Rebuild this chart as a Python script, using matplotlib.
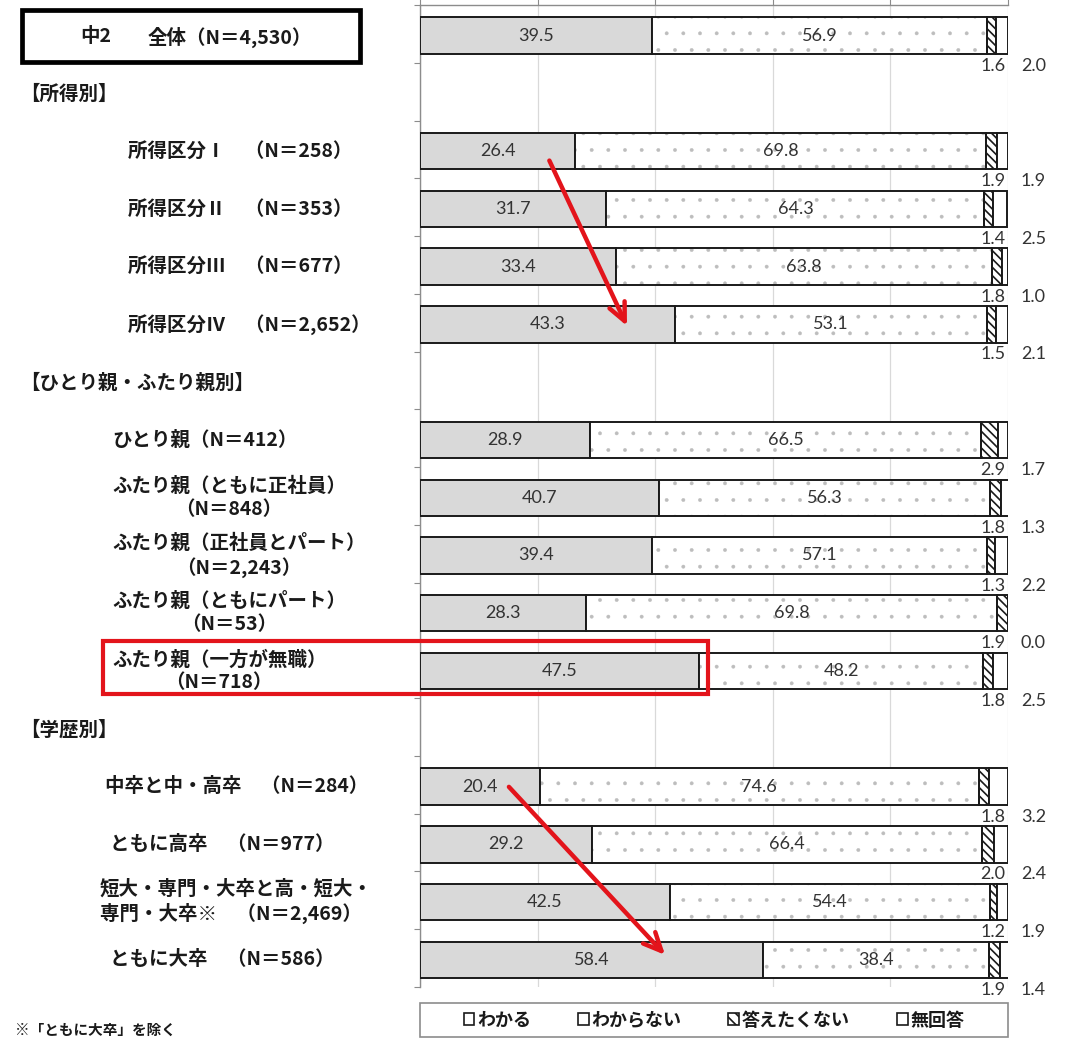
import numpy as np
import matplotlib.pyplot as plt
from matplotlib.patches import Patch, Rectangle
import matplotlib.transforms as mtransforms

plt.rcParams['font.family'] = ['Noto Sans CJK JP', 'DejaVu Sans']

# row labels (slot index on the category axis, label text)
row_slots = [0, 2, 3, 4, 5, 7, 8, 9, 10, 11, 13, 14, 15, 16]
row_labels = [
    None,
    "所得区分Ⅰ　（N＝258）",
    "所得区分Ⅱ　（N＝353）",
    "所得区分Ⅲ　（N＝677）",
    "所得区分Ⅳ　（N＝2,652）",
    "ひとり親（N＝412）",
    "ふたり親（ともに正社員）\n（N＝848）",
    "ふたり親（正社員とパート）\n（N＝2,243）",
    "ふたり親（ともにパート）\n（N＝53）",
    "ふたり親（一方が無職）\n（N＝718）",
    "中卒と中・高卒　（N＝284）",
    "ともに高卒　（N＝977）",
    "短大・専門・大卒と高・短大・\n専門・大卒※　（N＝2,469）",
    "ともに大卒　（N＝586）",
]
section_slots = [1, 6, 12]
section_labels = ["【所得別】", "【ひとり親・ふたり親別】", "【学歴別】"]

series = ["わかる", "わからない", "答えたくない", "無回答"]
wakaru    = [39.5, 26.4, 31.7, 33.4, 43.3, 28.9, 40.7, 39.4, 28.3, 47.5, 20.4, 29.2, 42.5, 58.4]
wakaranai = [56.9, 69.8, 64.3, 63.8, 53.1, 66.5, 56.3, 57.1, 69.8, 48.2, 74.6, 66.4, 54.4, 38.4]
kotaetaku = [1.6, 1.9, 1.4, 1.8, 1.5, 2.9, 1.8, 1.3, 1.9, 1.8, 1.8, 2.0, 1.2, 1.9]
mukaitou  = [2.0, 1.9, 2.5, 1.0, 2.1, 1.7, 1.3, 2.2, 0.0, 2.5, 3.2, 2.4, 1.9, 1.4]

W, H = 1073, 1042
fig = plt.figure(figsize=(W / 100, H / 100), dpi=100)
ax = fig.add_axes([420 / W, 1 - 987 / H, 588 / W, 982 / H])

n_slots = 17
y = np.array(row_slots) + 0.53
h = 0.63
a = np.array(wakaru)
b = np.array(wakaranai)
c = np.array(kotaetaku)
d = np.array(mukaitou)

ax.barh(y, a, height=h, color="#d9d9d9", edgecolor="#1a1a1a", lw=1.4, zorder=3)
# sparse grey dots, then a black outline on top
plt.rcParams['hatch.linewidth'] = 0.3
ax.barh(y, b, left=a, height=h, color="white", edgecolor="#bdbdbd", lw=0,
        hatch=".", zorder=3)
ax.barh(y, b, left=a, height=h, fill=False, edgecolor="#1a1a1a", lw=1.4, zorder=4)
plt.rcParams['hatch.linewidth'] = 1.2
ax.barh(y, c, left=a + b, height=h, color="white", edgecolor="#1a1a1a", lw=1.4,
        hatch="\\\\\\\\", zorder=3)
ax.barh(y, d, left=a + b + c, height=h, color="white", edgecolor="#1a1a1a",
        lw=1.4, zorder=3)

num_font = dict(family=["Lato", "DejaVu Sans"], fontsize=13, color="#333333")
for yi, ai, bi, ci, di in zip(y, a, b, c, d):
    ax.text(ai / 2, yi, f"{ai:.1f}", ha="center", va="center", zorder=6, **num_font)
    ax.text(ai + bi / 2, yi, f"{bi:.1f}", ha="center", va="center", zorder=6, **num_font)
    ax.text(97.4, yi + 0.52, f"{ci:.1f}", ha="center", va="center", clip_on=False, **num_font)
    ax.text(104.3, yi + 0.52, f"{di:.1f}", ha="center", va="center", clip_on=False, **num_font)

ax.set_xlim(0, 100)
ax.set_ylim(n_slots, 0)
ax.set_xticks(np.arange(0, 101, 20))
ax.set_yticks(np.arange(0, n_slots + 1))
ax.xaxis.tick_top()
ax.tick_params(axis="x", direction="out", length=4, color="#8c8c8c", labeltop=False)
ax.tick_params(axis="y", direction="out", length=4, color="#8c8c8c", labelleft=False)
ax.grid(axis="x", color="#d9d9d9", lw=0.9, zorder=0)
for s in ["right", "bottom"]:
    ax.spines[s].set_visible(False)
for s in ["left", "top"]:
    ax.spines[s].set_color("#8c8c8c")
    ax.spines[s].set_linewidth(1.0)

# category labels on the left, x in figure pixels, y in data
trans = mtransforms.blended_transform_factory(fig.transFigure, ax.transData)
label_x = [None, 128, 128, 128, 128, 112, 112, 112, 112, 112, 105, 110, 100, 110]
label_font = dict(fontsize=14, fontweight="bold", color="#1a1a1a")
for yi, txt, lx in zip(y, row_labels, label_x):
    if txt is None:
        continue
    multi = "center" if txt.startswith("ふたり親") else "left"
    ax.text(lx / W, yi, txt, transform=trans, ha="left", va="center",
            multialignment=multi, linespacing=1.25, **label_font)
for s, txt in zip(section_slots, section_labels):
    ax.text(20 / W, s + 0.55, txt, transform=trans, ha="left", va="center", **label_font)

# overall box
fig.add_artist(Rectangle((22 / W, 1 - 62 / H), 338 / W, 52 / H, transform=fig.transFigure,
                         fill=False, edgecolor="black", lw=3.4))
fig.text(80 / W, 1 - 37 / H, "中2", ha="left", va="center", **label_font)
fig.text(148 / W, 1 - 37 / H, "全体（N＝4,530）", ha="left", va="center", **label_font)

# highlight box
fig.add_artist(Rectangle((103 / W, 1 - 694 / H), 605 / W, 53 / H, transform=fig.transFigure,
                         fill=False, edgecolor="#e3141b", lw=3, zorder=10))

# trend arrows
arrow = dict(arrowstyle="->,head_length=1.3,head_width=0.6", color="#e3141b", lw=3.2)
ax.annotate("", xy=(35.4, 5.6), xytext=(21.8, 2.65), arrowprops=arrow, zorder=8)
ax.annotate("", xy=(42.0, 16.48), xytext=(14.8, 13.5), arrowprops=arrow, zorder=8)

fig.text(15 / W, 1 - 1030 / H, "※「ともに大卒」を除く", ha="left", va="center",
         fontsize=10.5, fontweight="bold", color="#1a1a1a")

# legend frame spans the plot width
fig.add_artist(Rectangle((420 / W, 1 - 1037 / H), 588 / W, 34 / H, transform=fig.transFigure,
                         fill=False, edgecolor="#8c8c8c", lw=1.2))
handles = [
    Patch(facecolor="white", edgecolor="#1a1a1a", lw=1.2),
    Patch(facecolor="white", edgecolor="#1a1a1a", lw=1.2),
    Patch(facecolor="white", edgecolor="#1a1a1a", lw=1.2, hatch="\\\\\\"),
    Patch(facecolor="white", edgecolor="#1a1a1a", lw=1.2),
]
leg = fig.legend(handles, series, loc="center", ncol=4, frameon=False,
                 bbox_to_anchor=(420 / W, 1 - 1037 / H, 588 / W, 34 / H),
                 handlelength=0.6, handleheight=0.6, handletextpad=0.15,
                 borderpad=0.35, columnspacing=2.6,
                 prop=dict(size=13, weight="bold"))
for t in leg.get_texts():
    t.set_color("#1a1a1a")

fig.savefig("out.png", dpi=100)
